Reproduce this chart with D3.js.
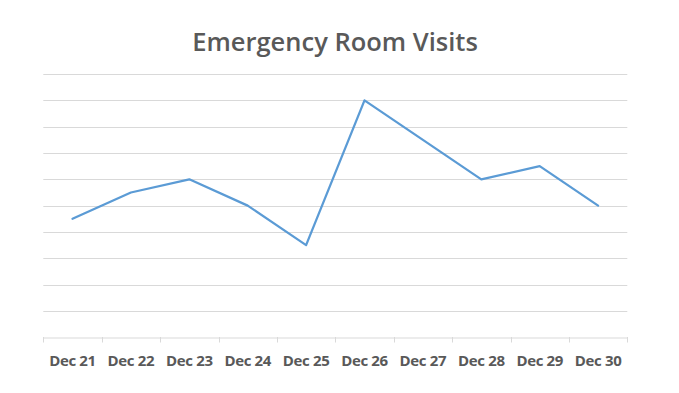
<!DOCTYPE html>
<html><head><meta charset="utf-8">
<script src="https://cdn.jsdelivr.net/npm/d3@7"></script>
<style>body{margin:0;background:#fff;}svg{display:block;}</style>
</head><body>
<svg id="chart" width="679" height="393"></svg>
<script>
const categories = ["Dec 21","Dec 22","Dec 23","Dec 24","Dec 25","Dec 26","Dec 27","Dec 28","Dec 29","Dec 30"];
const visits = [4.5, 5.5, 6, 5, 3.5, 9, 7.5, 6, 6.5, 5];
const yTicks = [0,1,2,3,4,5,6,7,8,9,10];
const title = "Emergency Room Visits";

(function () {
const svg = d3.select("#chart");
const mLeft = 43.3, mRight = 627.3, mTop = 74, mBottom = 337.3;
const x = d3.scaleBand().domain(categories).range([mLeft, mRight]);
const y = d3.scaleLinear().domain([0, 10]).range([mBottom, mTop]);

svg.append("text").attr("x", 335).attr("y", 50.7).attr("text-anchor", "middle")
  .attr("font-family", "Open Sans").attr("font-weight", 600).attr("font-size", 25.5)
  .attr("fill", "#595959").text(title);

svg.append("g").selectAll("line").data(yTicks.filter(d => d > 0)).join("line")
  .attr("x1", mLeft).attr("x2", mRight)
  .attr("y1", d => Math.round(y(d)) + 0.5).attr("y2", d => Math.round(y(d)) + 0.5)
  .attr("stroke", "#d9d9d9").attr("stroke-width", 1);

const xAxis = svg.append("g").attr("transform", `translate(0,${Math.round(mBottom)+0.5})`)
  .call(d3.axisBottom(x).tickSize(0).tickPadding(0));
xAxis.select(".domain").attr("stroke", "#d9d9d9");
xAxis.selectAll(".tick text").attr("y", 28.5).attr("dy", 0)
  .attr("font-family", "Open Sans").attr("font-weight", 700).attr("font-size", 15)
  .attr("letter-spacing", -0.35)
  .attr("fill", "#595959");
const bounds = categories.map(c => x(c)).concat([mRight]);
svg.append("g").selectAll("line").data(bounds).join("line")
  .attr("x1", d => Math.round(d) + 0.5).attr("x2", d => Math.round(d) + 0.5)
  .attr("y1", Math.round(mBottom)).attr("y2", Math.round(mBottom) + 5.5)
  .attr("stroke", "#d9d9d9");

const line = d3.line().x((d, i) => x(categories[i]) + x.bandwidth() / 2).y(d => y(d));
svg.append("path").datum(visits).attr("d", line)
  .attr("fill", "none").attr("stroke", "#5b9bd5").attr("stroke-width", 2.25)
  .attr("stroke-linejoin", "round").attr("stroke-linecap", "round");
})();
</script>
</body></html>
